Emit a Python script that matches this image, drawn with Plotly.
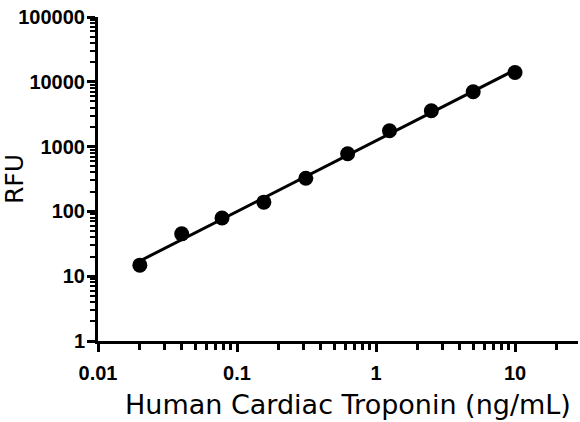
import numpy as np
import plotly.graph_objects as go

conc = [0.02, 0.04, 0.078, 0.156, 0.3125, 0.625, 1.25, 2.5, 5, 10]
rfu = [14.8, 45, 79, 139, 325, 775, 1760, 3580, 7020, 13900]

lx = np.log10(conc)
ly = np.log10(rfu)
slope, intercept = np.polyfit(lx, ly, 1)
fit_x = [conc[0], conc[-1]]
fit_y = [10 ** (intercept + slope * np.log10(v)) for v in fit_x]

fig = go.Figure()
fig.add_trace(go.Scatter(x=fit_x, y=fit_y, mode="lines",
                         line=dict(color="black", width=3), hoverinfo="skip"))
fig.add_trace(go.Scatter(x=conc, y=rfu, mode="markers",
                         marker=dict(color="black", size=15)))

tickfont = dict(family="Liberation Sans", size=20, color="black", weight="bold")
titlefont = dict(family="DejaVu Sans", size=27, color="black")

fig.update_layout(
    width=580, height=422,
    margin=dict(l=98, r=2, t=17, b=81),
    paper_bgcolor="white", plot_bgcolor="white",
    showlegend=False,
)
fig.add_annotation(text="Human Cardiac Troponin (ng/mL)", font=titlefont,
                   xref="paper", yref="paper", x=0.52, y=-0.197,
                   xanchor="center", yanchor="middle", showarrow=False)
fig.update_xaxes(
    type="log", range=[-2, 1.453], automargin=False,
    tickvals=[0.01, 0.1, 1, 10], ticktext=["0.01", "0.1", "1", "10"],
    showline=True, linecolor="black", linewidth=3,
    ticks="outside", ticklen=8, tickwidth=3, tickcolor="black",
    ticklabelstandoff=4,
    minor=dict(ticks="outside", ticklen=6, tickwidth=3, tickcolor="black",
               tickvals=[m * 10 ** e for e in range(-2, 2) for m in range(2, 10)
                         if m * 10 ** e < 29]),
    showgrid=False, zeroline=False,
    tickfont=tickfont,
)
fig.update_yaxes(
    type="log", range=[0, 5], automargin=False,
    tickvals=[1, 10, 100, 1000, 10000, 100000],
    ticktext=["1", "10", "100", "1000", "10000", "100000"],
    showline=True, linecolor="black", linewidth=3,
    ticks="outside", ticklen=8, tickwidth=3, tickcolor="black",
    ticklabelstandoff=-2,
    minor=dict(ticks="outside", ticklen=5, tickwidth=2, tickcolor="black",
               tickvals=[m * 10 ** e for e in range(0, 5) for m in range(2, 10)]),
    showgrid=False, zeroline=False,
    tickfont=tickfont,
    title=dict(text="RFU", font=dict(family="DejaVu Sans", size=25, color="black"),
               standoff=3),
)

fig.write_html("out.html", config={"displayModeBar": False},
               post_script="document.body.style.margin='0';")
